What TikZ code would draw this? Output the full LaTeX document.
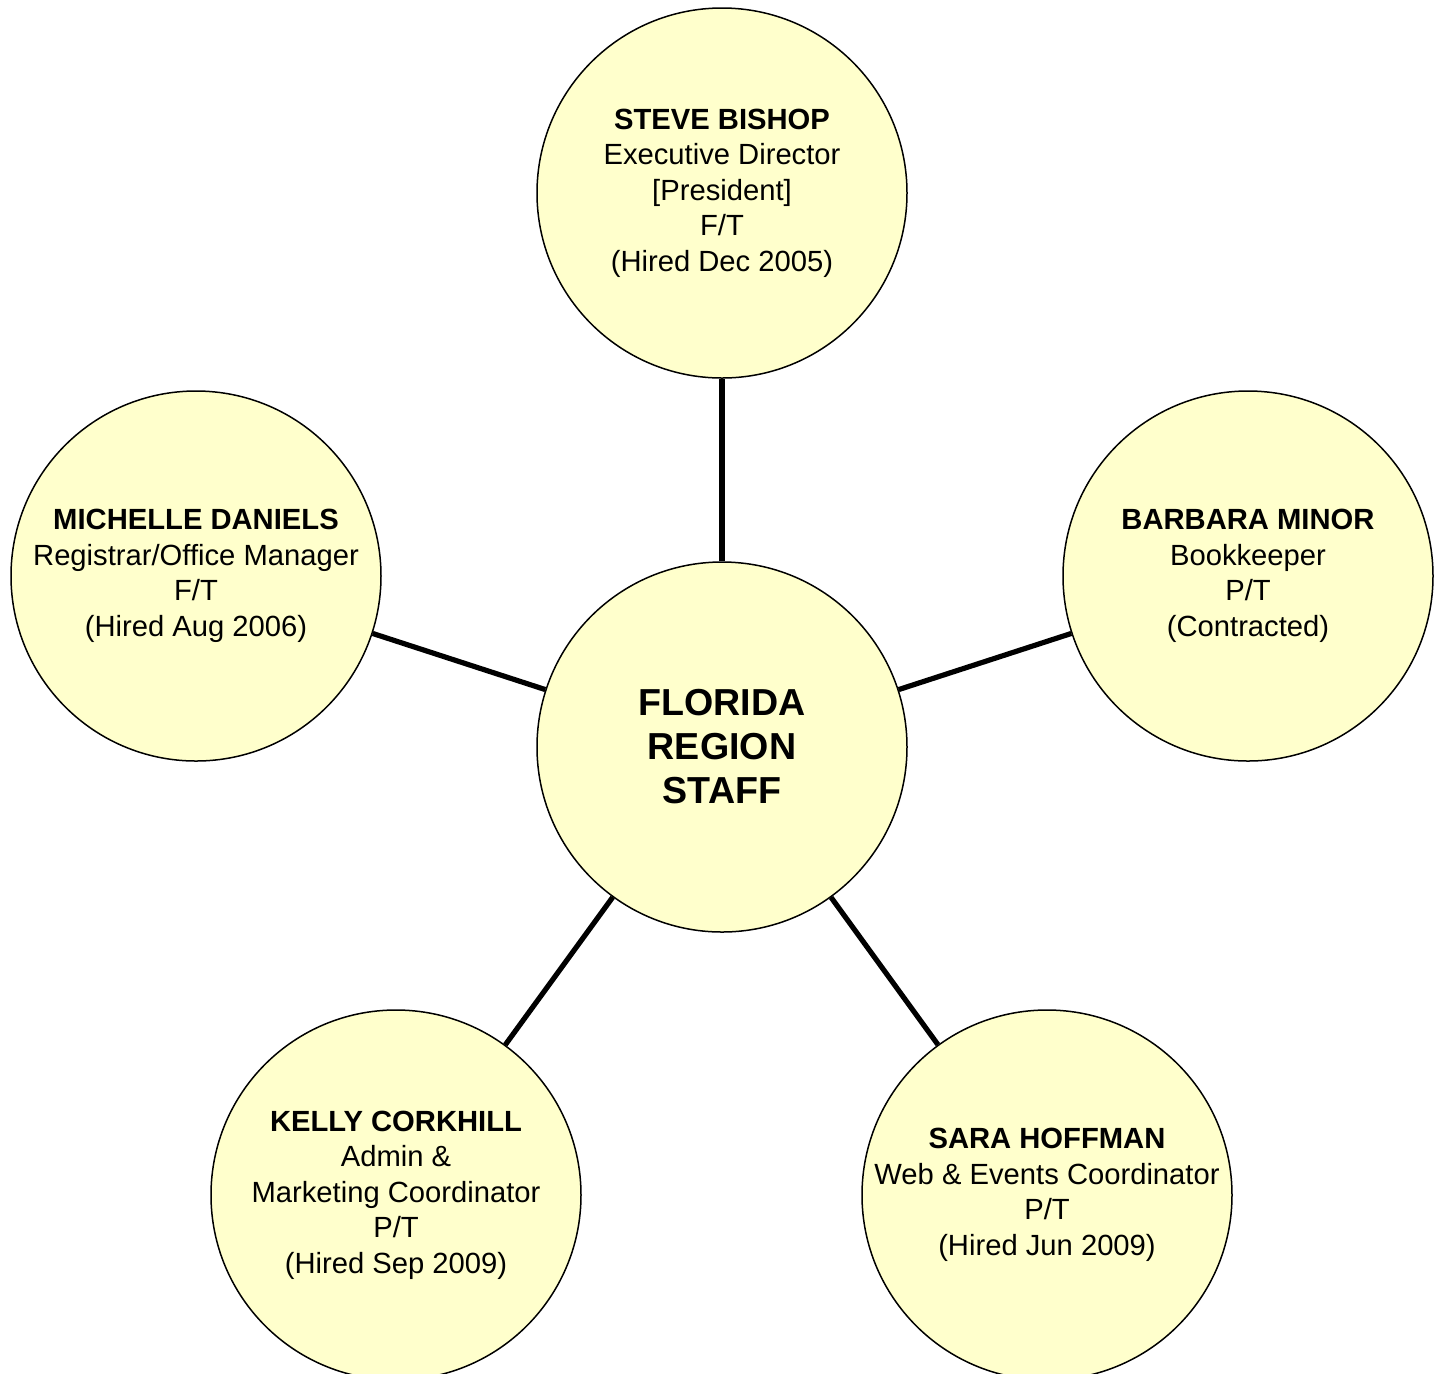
\documentclass[tikz,border=0pt]{standalone}
\usepackage{fontspec}
\setmainfont{Liberation Sans}
\definecolor{paleyellow}{HTML}{FFFFCC}
\begin{document}
\begin{tikzpicture}[x=0.5pt,y=-0.5pt,
  person/.style={circle,draw=black,line width=0.75pt,fill=paleyellow,minimum size=185pt,inner sep=0pt,align=center,font=\fontsize{14.6}{17.75}\selectfont},
  hub/.style={person,font=\fontsize{18.8}{22}\selectfont\bfseries},
  link/.style={line width=2.6pt,draw=black}]
\useasboundingbox (0,0) rectangle (1440,1373);
\clip (0,0) rectangle (1440,1373);
\node[hub] (center) at (722,747) {FLORIDA\\REGION\\STAFF};
\node[person] (top) at (722,193) {\textbf{STEVE BISHOP}\\Executive Director\\{[President]}\\F/T\\(Hired Dec 2005)};
\node[person] (left) at (196,576) {\textbf{MICHELLE DANIELS}\\Registrar/Office Manager\\F/T\\(Hired Aug 2006)};
\node[person] (right) at (1248,576) {\textbf{BARBARA MINOR}\\Bookkeeper\\P/T\\(Contracted)};
\node[person] (bl) at (396,1195) {\textbf{KELLY CORKHILL}\\Admin \&\\Marketing Coordinator\\P/T\\(Hired Sep 2009)};
\node[person] (br) at (1047,1195) {\textbf{SARA HOFFMAN}\\Web \& Events Coordinator\\P/T\\(Hired Jun 2009)};
\draw[link] (center) -- (top);
\draw[link] (center) -- (left);
\draw[link] (center) -- (right);
\draw[link] (center) -- (bl);
\draw[link] (center) -- (br);
\end{tikzpicture}
\end{document}
